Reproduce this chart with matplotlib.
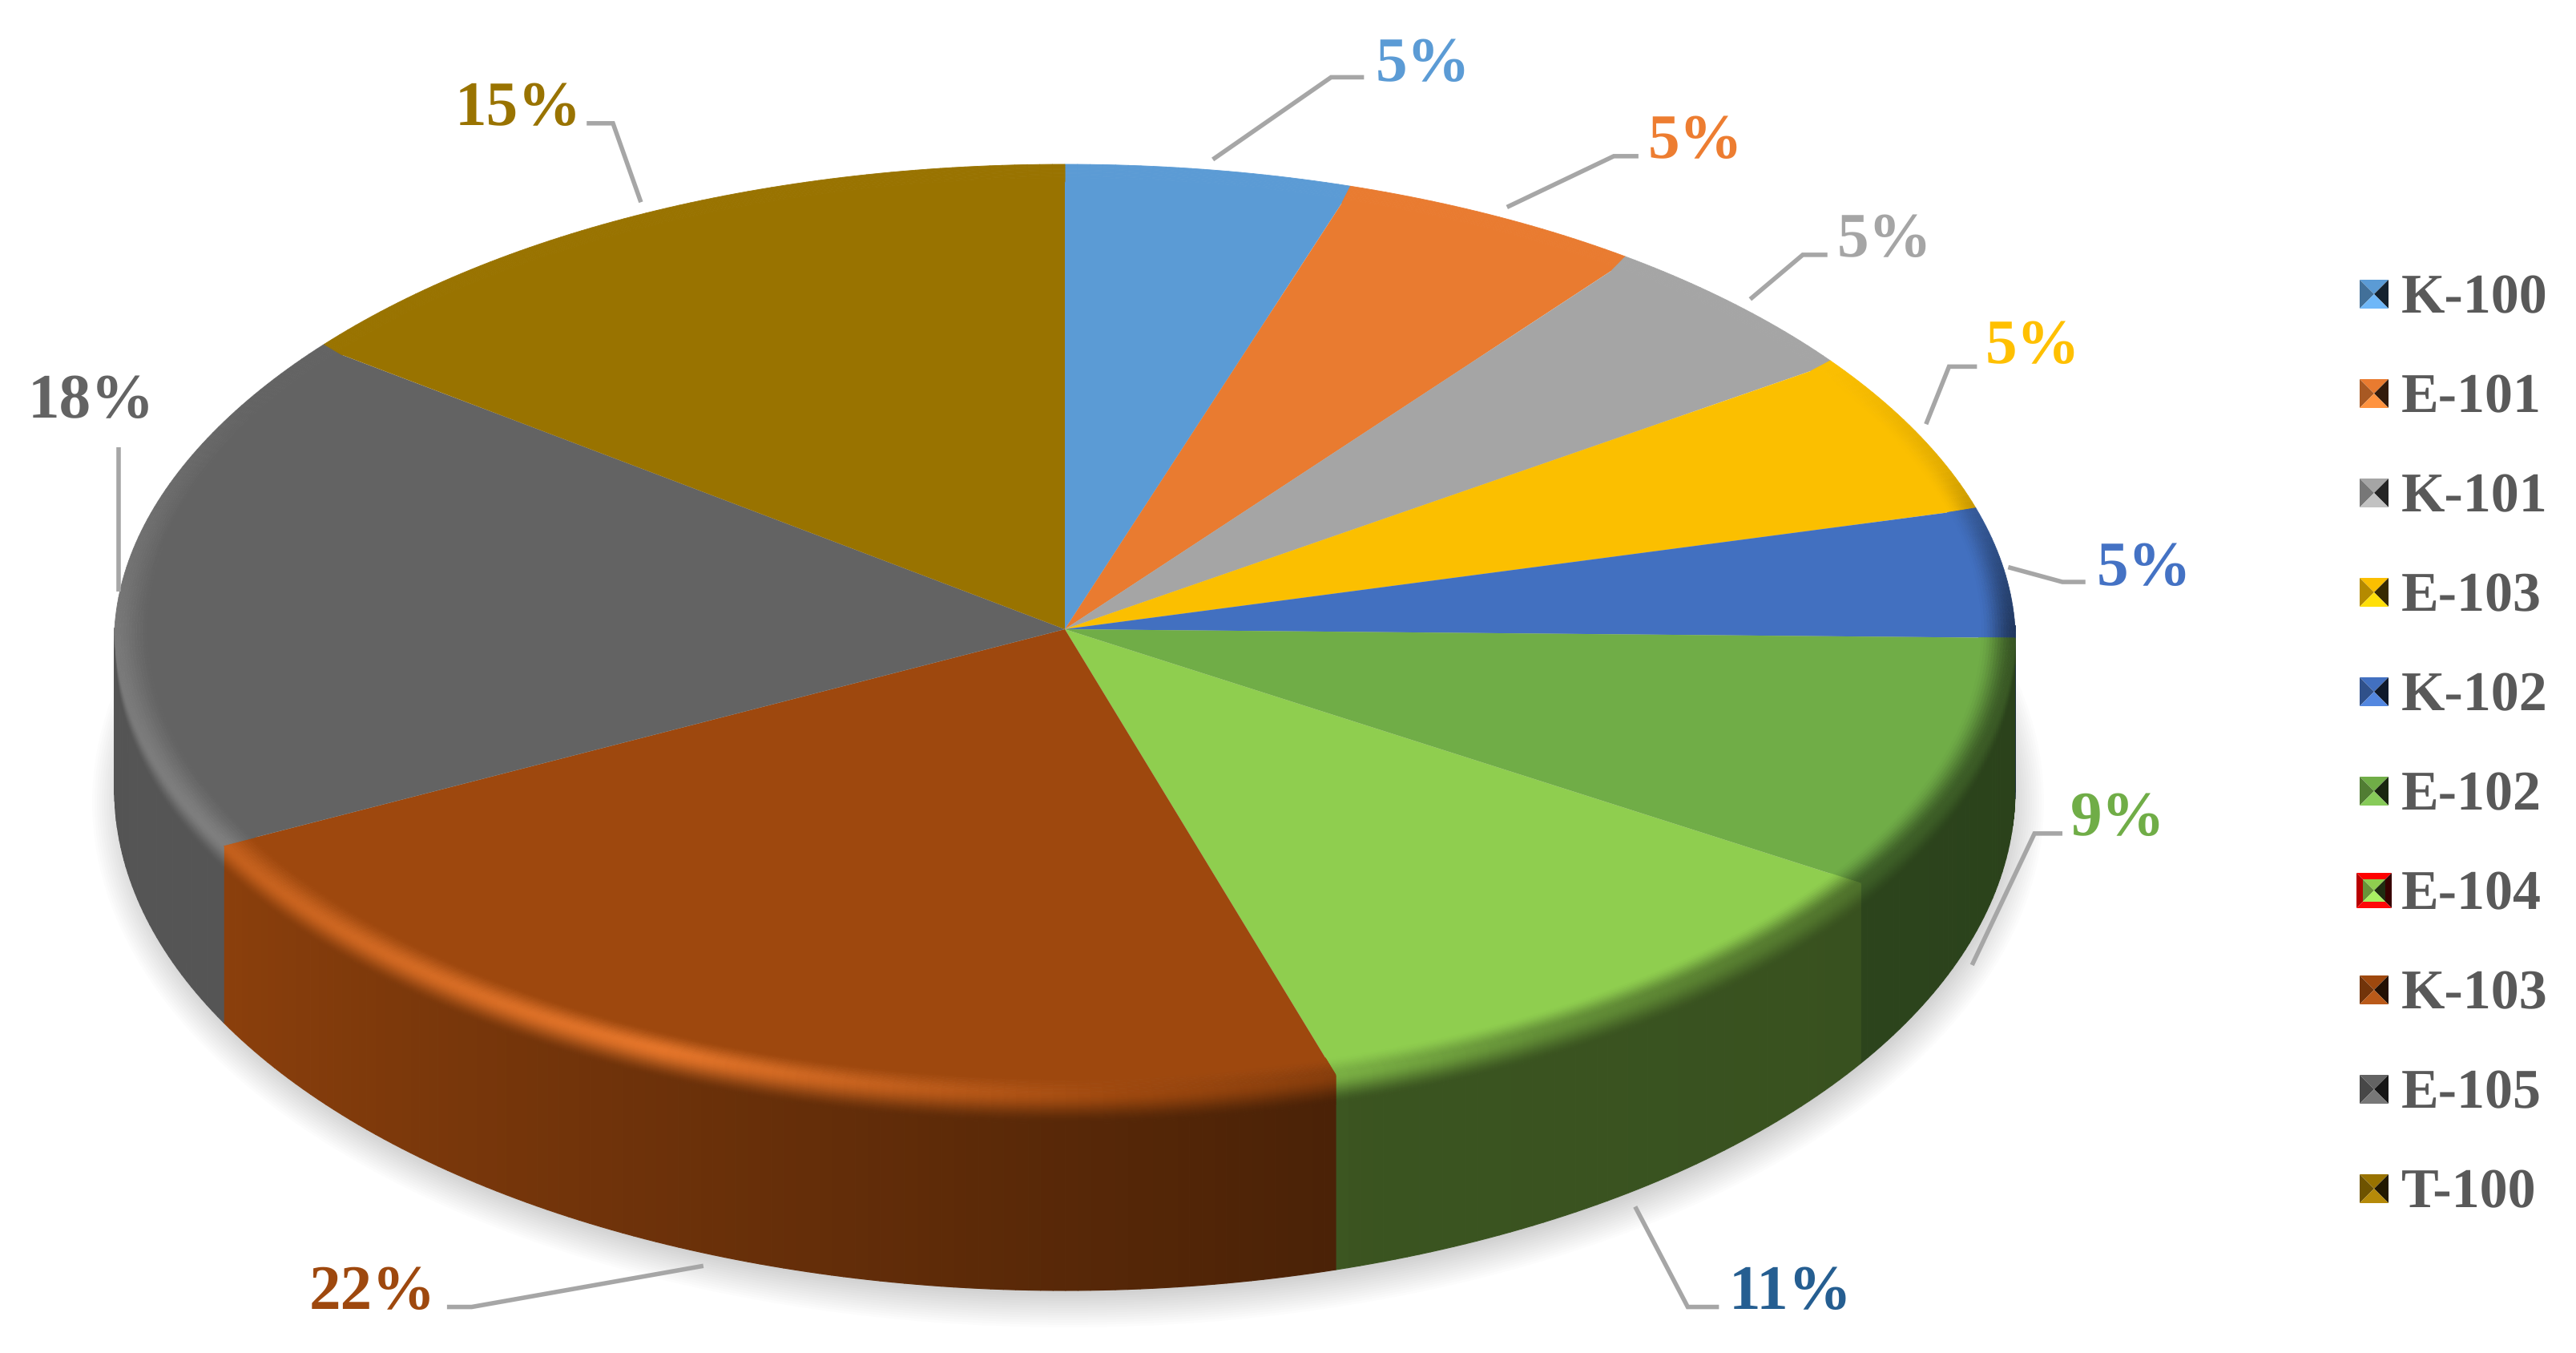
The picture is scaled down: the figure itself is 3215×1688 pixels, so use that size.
import numpy as np
import matplotlib
matplotlib.use("Agg")
import matplotlib.pyplot as plt
from matplotlib.collections import PolyCollection
from matplotlib.patches import Ellipse, Polygon
from matplotlib.transforms import Affine2D

plt.rcParams["text.hinting"] = "no_hinting"

# ---- data ----
categories = ["K-100", "E-101", "K-101", "E-103", "K-102", "E-102", "E-104", "K-103", "E-105", "T-100"]
shares = [4.9, 5.3, 5.0, 5.6, 4.5, 8.9, 11.2, 21.9, 18.2, 14.5]
pct_labels = ["5%", "5%", "5%", "5%", "5%", "9%", "11%", "22%", "18%", "15%"]
colors = ["#5B9BD5", "#E97B30", "#A5A5A5", "#FBBF00", "#4270C0", "#70AD47", "#8FCE4F", "#9E480E", "#636363", "#997300"]
label_colors = ["#5B9BD5", "#ED7D31", "#A5A5A5", "#FFC000", "#4472C4", "#70AD47", "#255E91", "#9E480E", "#636363", "#997300"]

W, H = 3216, 1688
CX, CY, RX, RY = 1329.0, 785.0, 1186.0, 580.0   # top ellipse, pixels
LOW_CY, LOW_RY = 985.0, 625.0                   # bottom ellipse, pixels

fig = plt.figure(figsize=(W / 200, H / 200), dpi=200, facecolor="white")
ax = fig.add_axes([0, 0, 1, 1])
pix = Affine2D().scale(1 / W, -1 / H).translate(0, 1) + fig.transFigure
LOW_C = -(LOW_CY - CY) / RY
LOW_B = LOW_RY / RY

def rgb(c):
    return np.array(matplotlib.colors.to_rgb(c))

def crest_factor(t):
    return np.interp(t, [0, 55, 70, 90, 123, 150, 172, 205, 240, 270, 300, 360],
                     [1, 1, .9, .5, .55, .7, .95, 1.3, 1.16, 1.12, 1.0, 1.0])

def wall_factor(t):
    return np.interp(t, [90, 163, 163.5, 242, 242.5, 270], [.38, .41, .47, .88, .86, .85])

def shade(c, f):
    out = c * f + max(f - 1, 0) * 0.3
    return np.clip(out, 0, 1)

RIM_IN = 0.962

def warp(th, r):
    # the far half of the disc is slightly narrower than a true ellipse
    s = np.clip((r - RIM_IN) / (1 - RIM_IN), 0, 1)
    return 1 - 0.014 * s * np.abs(np.sin(2 * th)) * (np.cos(th) > 0)

# soft shadow under the disc
for i in range(18):
    grow = 46 - i * 3.0
    ax.add_patch(Ellipse((CX + 4, LOW_CY + 16), 2 * (RX + grow - 14), 2 * (LOW_RY + grow - 16),
                         transform=pix, facecolor="black", edgecolor="none", alpha=0.0105, zorder=1))

# top face: native pie in squashed data coordinates (its edge sits under the rim)
ax.pie(shares, colors=colors, startangle=90, counterclock=False, radius=0.97, center=(0, 0),
       wedgeprops=dict(linewidth=0, zorder=3))
ax.set_aspect("auto")
ax.set_xlim((0 - CX) / RX, (W - CX) / RX)
ax.set_ylim(-(H - CY) / RY, CY / RY)
ax.set_axis_off()

edges = np.concatenate([[0], np.cumsum(shares)]) / np.sum(shares) * 360.0

# side wall and bevelled rim, slice by slice
wall_polys, wall_cols, rim_polys, rim_cols = [], [], [], []
wall_bands = np.concatenate([np.linspace(0, .15, 19), [1.0]])
rim_radii = np.linspace(RIM_IN, 1.0, 14)

def pt(th, s):
    top = np.cos(th)
    low = LOW_C + LOW_B * np.cos(th)
    return (np.sin(th), top + (low - top) * s)

def rp(th, r):
    return (r * np.sin(th) * warp(th, r), r * np.cos(th))

for i, c in enumerate(colors):
    base = rgb(c)
    t0, t1 = edges[i], edges[i + 1]
    n = max(int((t1 - t0) / 0.75), 1)
    ts = np.linspace(t0, t1, n + 1)
    for a, b in zip(ts[:-1], ts[1:]):
        m = 0.5 * (a + b)
        ra, rb = np.radians(a), np.radians(b)
        crest = shade(base, crest_factor(m))
        for r0, r1 in zip(rim_radii[:-1], rim_radii[1:]):
            u = (0.5 * (r0 + r1) - rim_radii[0]) / (rim_radii[-1] - rim_radii[0])
            u = u * u * (3 - 2 * u)
            rim_polys.append([rp(ra, r0), rp(ra, r1), rp(rb, r1), rp(rb, r0)])
            rim_cols.append((1 - u) * base + u * crest)
        if b > 90 and a < 270:
            wall = shade(base, wall_factor(m))
            for k in range(len(wall_bands) - 1):
                s0, s1 = wall_bands[k], wall_bands[k + 1]
                wall_polys.append([pt(ra, s0), pt(ra, s1), pt(rb, s1), pt(rb, s0)])
                u = min(0.5 * (s0 + s1) / 0.15, 1.0)
                u = u * u * (3 - 2 * u)
                wall_cols.append((1 - u) * crest + u * wall)

ax.add_collection(PolyCollection(wall_polys, facecolors=wall_cols, edgecolors=wall_cols, linewidths=0.4, zorder=2))
ax.add_collection(PolyCollection(rim_polys, facecolors=rim_cols, edgecolors=rim_cols, linewidths=0.3, zorder=4))

# data labels and leader lines (positions in 1568-wide reference units)
S = W / 1568
leaders = [
    [(738, 97), (810, 47), (830, 47)],
    [(917, 126), (982, 95), (997, 95)],
    [(1065, 182), (1097, 155), (1112, 155)],
    [(1172, 258), (1186, 223), (1203, 223)],
    [(1222, 345), (1255, 354), (1269, 354)],
    [(1200, 587), (1238, 507), (1255, 507)],
    [(995, 734), (1027, 795), (1046, 795)],
    [(428, 770), (287, 795), (272, 795)],
    [(72, 360), (72, 272)],
    [(390, 123), (373, 75), (357, 75)],
]
label_pos = [(837, 49), (1003, 96), (1118, 156), (1208, 221), (1276, 356),
             (1260, 508), (1052, 796), (188, 796), (17, 254), (277, 76)]
for pts, lab, col, (lx, ly) in zip(leaders, pct_labels, label_colors, label_pos):
    xs, ys = zip(*pts)
    ax.plot(np.array(xs) * S, np.array(ys) * S, color="#A6A6A6", lw=2.0, transform=pix,
            solid_joinstyle="miter", solid_capstyle="butt", zorder=6)
    ax.text(lx * S, ly * S, lab, color=col, transform=pix, family="Liberation Serif",
            weight="bold", fontsize=28.5, ha="left", va="baseline", zorder=7)

# legend with bevelled keys
def key(xc, yc, half, base, inner):
    """Four shaded triangles forming a bevelled square."""
    x0, x1, y0, y1 = xc - half, xc + half, yc - half, yc + half
    ix, iy = inner
    tris = [([(x0, y0), (x1, y0), (ix[1], iy[0]), (ix[0], iy[0])], 1.0),
            ([(x0, y0), (ix[0], iy[0]), (ix[0], iy[1]), (x0, y1)], 0.72),
            ([(x1, y0), (x1, y1), (ix[1], iy[1]), (ix[1], iy[0])], 0.22),
            ([(x0, y1), (ix[0], iy[1]), (ix[1], iy[1]), (x1, y1)], 1.12)]
    for poly, f in tris:
        ax.add_patch(Polygon(poly, closed=True, transform=pix, facecolor=shade(base, f),
                             edgecolor="none", zorder=8))

legend_y0, legend_dy = 367.0, 124.0
for i, (name, c) in enumerate(zip(categories, colors)):
    y = legend_y0 + i * legend_dy
    base = rgb(c)
    if name == "E-104":
        key(2963, y, 22, rgb("#FF0000"), ((2949, 2977), (y - 14, y + 14)))
        key(2963, y, 14, base, ((2963, 2963), (y, y)))
    else:
        key(2963, y, 18, base, ((2963, 2963), (y, y)))
    ax.text(2997, y + 23, name, color="#595959", transform=pix, family="Liberation Serif",
            weight="bold", fontsize=25.2, ha="left", va="baseline", zorder=8)

fig.savefig("out.png", dpi=200, facecolor="white")
